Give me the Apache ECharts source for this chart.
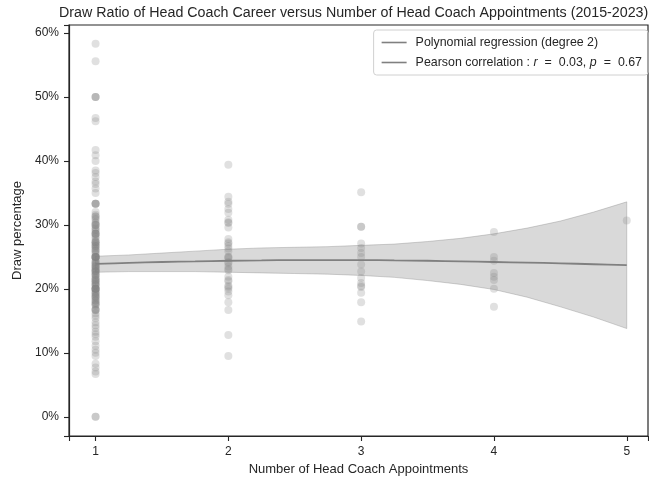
<!DOCTYPE html>
<html lang="en">
<head>
    <meta charset="UTF-8">
    <title>Draw Ratio vs Head Coach Appointments</title>
    <style>
        html, body { margin: 0; padding: 0; background: #fff; }
        #main { width: 649px; height: 483px; }
    </style>
</head>
<body>
    <div id="main"></div>
    <script src="https://cdn.jsdelivr.net/npm/echarts@6/dist/echarts.min.js"></script>
    <script>
        // draw percentage of each coach, grouped by number of appointments
        var draws1 = [58.3, 55.6, 50, 50, 50, 46.7, 46.2, 41.7, 40.9, 40, 38.5, 38.1, 37.5, 36.8, 36.4, 35.7, 35,
            33.3, 33.3, 33.3, 33.3, 32, 31.6, 31.3, 31.3, 31, 30.8, 30.4, 30.2, 30, 30, 30, 29.6, 29.4, 29.2, 29,
            28.6, 28.6, 28.6, 28.6, 28.3, 28.1, 27.8, 27.5, 27.3, 27.3, 27.3, 27, 26.9, 26.7, 26.7, 26.5, 26.3,
            26.1, 26, 25.9, 25.6, 25.4, 25, 25, 25, 25, 25, 25, 25, 24.7, 24.4, 24.2, 24.1, 24, 23.8, 23.7, 23.5,
            23.5, 23.3, 23.1, 23.1, 22.9, 22.8, 22.7, 22.7, 22.5, 22.2, 22.2, 22.2, 21.9, 21.7, 21.6, 21.4, 21.4,
            21.2, 21.1, 20.9, 20.8, 20.7, 20.5, 20.5, 20, 20, 20, 20, 20, 20, 19.8, 19.6, 19.4, 19.3, 19.2, 19,
            18.8, 18.8, 18.6, 18.5, 18.2, 18.2, 17.9, 17.8, 17.6, 17.6, 17.4, 16.9, 16.7, 16.7, 16.7, 16.2, 15.8,
            15.4, 14.8, 14.3, 13.9, 13.3, 12.9, 12.5, 11.8, 11.1, 10.5, 10, 9.5, 8.3, 7.7, 7.1, 6.7, 0, 0];
        var draws2 = [39.4, 34.4, 33.6, 33.3, 32.5, 31.9, 30.8, 30.4, 30.3, 29.6, 27.8, 27.3, 27.1, 26.7, 26.3,
            25.9, 25, 25, 24.8, 24.2, 24, 23.5, 23.1, 22.9, 21.9, 21.4, 21.2, 20.5, 20.3, 20, 19.6, 19, 17.9,
            16.7, 12.8, 9.5];
        var draws3 = [35.1, 29.7, 29.7, 27.1, 26.4, 25.6, 25, 23.8, 22.7, 21.7, 20.9, 20.5, 20.3, 19.4, 17.9, 14.9];
        var draws4 = [28.9, 25, 24.4, 22.5, 21.9, 21.4, 20, 17.2];
        var draws5 = [30.7];

        // regression curve and its confidence band
        var fitX = [1, 1.25, 1.5, 1.75, 2, 2.25, 2.5, 2.75, 3, 3.25, 3.5, 3.75, 4, 4.25, 4.5, 4.75, 5];
        var fitY = [23.9, 24.05, 24.2, 24.3, 24.4, 24.45, 24.5, 24.5, 24.5, 24.45, 24.4, 24.3, 24.2, 24.1, 24.0, 23.85, 23.7];
        var ciUpper = [25.1, 25.3, 25.6, 25.9, 26.2, 26.4, 26.5, 26.6, 26.8, 27.0, 27.4, 27.9, 28.6, 29.5, 30.6, 32.0, 33.6];
        var ciLower = [22.6, 22.7, 22.7, 22.7, 22.6, 22.5, 22.4, 22.3, 22.1, 21.8, 21.3, 20.7, 19.9, 18.7, 17.2, 15.6, 13.8];

        var xTicks = [1, 2, 3, 4, 5];
        var yTicks = [0, 10, 20, 30, 40, 50, 60];

        var points = [];
        [draws1, draws2, draws3, draws4, draws5].forEach(function (arr, i) {
            arr.forEach(function (v) { points.push([i + 1, v]); });
        });
        var fitData = fitX.map(function (x, i) { return [x, fitY[i]]; });

        var dark = '#262626';
        var font = 'Liberation Sans, Arial, sans-serif';

        var chart = echarts.init(document.getElementById('main'));
        var option = {
            animation: false,
            textStyle: { fontFamily: font },
            title: {
                text: 'Draw Ratio of Head Coach Career versus Number of Head Coach Appointments (2015-2023)',
                left: 54,
                top: 1,
                textStyle: { fontSize: 14.25, fontWeight: 'normal', color: dark, fontFamily: font }
            },
            grid: {
                left: 69, right: 1, top: 25, bottom: 47,
                show: true, borderColor: dark, borderWidth: 1.2, backgroundColor: 'transparent'
            },
            legend: {
                orient: 'vertical',
                right: 1,
                top: 30,
                data: ['Polynomial regression (degree 2)', 'Pearson correlation'],
                icon: 'rect',
                itemWidth: 25,
                itemHeight: 1.6,
                itemGap: 8,
                padding: [6.5, 6, 6.5, 8],
                borderColor: '#d0d0d0',
                borderWidth: 1,
                borderRadius: 3,
                textStyle: {
                    fontSize: 12.4, color: dark, fontFamily: font, padding: [0, 0, 0, 4],
                    rich: {
                        it: { fontStyle: 'italic', fontSize: 12.4, color: dark, fontFamily: font },
                        eq: { fontSize: 12.4, color: dark, fontFamily: font, padding: [0, 7, 0, 7] }
                    }
                },
                formatter: function (name) {
                    if (name === 'Pearson correlation') {
                        return 'Pearson correlation : {it|r}{eq|=}0.03, {it|p}{eq|=}0.67';
                    }
                    return name;
                }
            },
            xAxis: {
                type: 'value',
                min: 0.8,
                max: 5.16,
                name: 'Number of Head Coach Appointments',
                nameLocation: 'middle',
                nameGap: 27,
                nameTextStyle: { fontSize: 13, color: dark },
                axisLine: { show: true, onZero: false, lineStyle: { color: dark, width: 1.2 } },
                axisTick: { show: true, length: 5, lineStyle: { color: dark, width: 1.1 } },
                axisLabel: { color: dark, fontSize: 12, margin: 10, customValues: xTicks },
                splitLine: { show: false }
            },
            yAxis: {
                type: 'value',
                min: -3,
                max: 61.25,
                name: 'Draw percentage',
                nameLocation: 'middle',
                nameGap: 40,
                nameTextStyle: { fontSize: 13, color: dark },
                axisLine: { show: true, onZero: false, lineStyle: { color: dark, width: 1.2 } },
                axisTick: { show: true, length: 5, lineStyle: { color: dark, width: 1.1 } },
                axisLabel: { color: dark, fontSize: 12, margin: 10, formatter: '{value}%', customValues: yTicks },
                splitLine: { show: false }
            },
            series: [
                {
                    name: 'points',
                    type: 'scatter',
                    data: points,
                    symbolSize: 8,
                    itemStyle: { color: 'rgba(128,128,128,0.3)' },
                    z: 1
                },
                {
                    name: 'ci',
                    type: 'custom',
                    data: [[3, 24]],
                    z: 2,
                    renderItem: function (params, api) {
                        var pts = [];
                        for (var i = 0; i < fitX.length; i++) {
                            pts.push(api.coord([fitX[i], ciUpper[i]]));
                        }
                        for (var j = fitX.length - 1; j >= 0; j--) {
                            pts.push(api.coord([fitX[j], ciLower[j]]));
                        }
                        return {
                            type: 'polygon',
                            shape: { points: pts },
                            style: { fill: 'rgba(128,128,128,0.3)', stroke: 'rgba(128,128,128,0.35)', lineWidth: 1 }
                        };
                    }
                },
                {
                    name: 'Polynomial regression (degree 2)',
                    type: 'line',
                    data: fitData,
                    symbol: 'none',
                    smooth: 0.3,
                    color: '#808080',
                    lineStyle: { color: '#808080', width: 1.8 },
                    z: 3
                },
                {
                    name: 'Pearson correlation',
                    type: 'line',
                    data: [],
                    symbol: 'none',
                    color: '#808080',
                    lineStyle: { color: '#808080', width: 1.8 }
                }
            ]
        };
        chart.setOption(option);
    </script>
</body>
</html>
